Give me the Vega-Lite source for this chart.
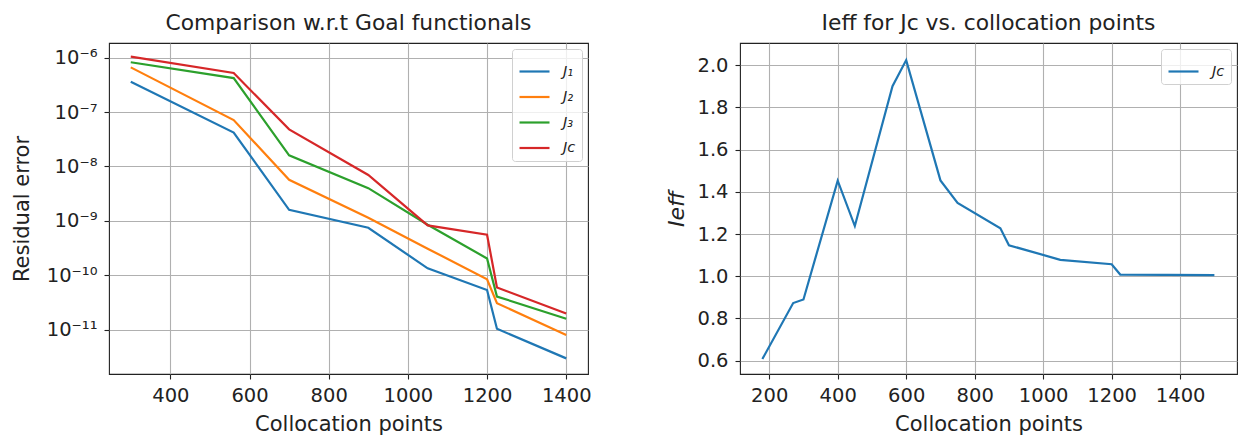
{
  "$schema": "https://vega.github.io/schema/vega-lite/v6.json",
  "padding": {"left": 10, "top": 12, "right": 0, "bottom": 0},
  "background": "white",
  "spacing": 152,
  "bounds": "flush",
  "config": {
    "font": "DejaVu Sans",
    "view": {"stroke": "#222222", "strokeWidth": 1.1},
    "axis": {
      "domain": false, "grid": true, "gridColor": "#b0b0b0", "gridWidth": 1.1, "gridOpacity": 1,
      "tickColor": "#222222", "tickSize": 5, "tickWidth": 1.1,
      "labelFontSize": 19.5, "labelColor": "#222222", "labelPadding": 7,
      "titleFontSize": 21, "titleFontWeight": "normal", "titleColor": "#222222", "titlePadding": 9
    },
    "title": {"fontSize": 21.8, "fontWeight": "normal", "color": "#222222", "offset": 8},
    "legend": {
      "orient": "top-right", "offset": 6, "padding": 6, "title": null,
      "fillColor": "rgba(255,255,255,0.8)", "strokeColor": "#d0d0d0", "cornerRadius": 3,
      "symbolType": "stroke", "symbolSize": 900, "symbolStrokeWidth": 2.2,
      "labelFontSize": 14.5, "labelFontStyle": "italic", "labelColor": "#222222", "labelOffset": 12,
      "rowPadding": 2.5
    }
  },
  "hconcat": [
    {
      "width": 479, "height": 331,
      "title": "Comparison w.r.t Goal functionals",
      "data": {"values": [
        {"x": 300, "J": "J₁", "err": 3.6e-7}, {"x": 560, "J": "J₁", "err": 4.2e-8}, {"x": 700, "J": "J₁", "err": 1.6e-9}, {"x": 900, "J": "J₁", "err": 7.5e-10}, {"x": 1050, "J": "J₁", "err": 1.35e-10}, {"x": 1200, "J": "J₁", "err": 5.4e-11}, {"x": 1225, "J": "J₁", "err": 1.05e-11}, {"x": 1400, "J": "J₁", "err": 3.0e-12},
        {"x": 300, "J": "J₂", "err": 6.6e-7}, {"x": 560, "J": "J₂", "err": 7.1e-8}, {"x": 700, "J": "J₂", "err": 5.7e-9}, {"x": 900, "J": "J₂", "err": 1.15e-9}, {"x": 1050, "J": "J₂", "err": 3.1e-10}, {"x": 1200, "J": "J₂", "err": 8.5e-11}, {"x": 1225, "J": "J₂", "err": 3.1e-11}, {"x": 1400, "J": "J₂", "err": 8.1e-12},
        {"x": 300, "J": "J₃", "err": 8.2e-7}, {"x": 560, "J": "J₃", "err": 4.2e-7}, {"x": 700, "J": "J₃", "err": 1.6e-8}, {"x": 900, "J": "J₃", "err": 4.0e-9}, {"x": 1050, "J": "J₃", "err": 8.5e-10}, {"x": 1200, "J": "J₃", "err": 2.05e-10}, {"x": 1225, "J": "J₃", "err": 4.1e-11}, {"x": 1400, "J": "J₃", "err": 1.6e-11},
        {"x": 300, "J": "Jc", "err": 1.04e-6}, {"x": 560, "J": "Jc", "err": 5.2e-7}, {"x": 700, "J": "Jc", "err": 4.8e-8}, {"x": 900, "J": "Jc", "err": 7.0e-9}, {"x": 1050, "J": "Jc", "err": 8.3e-10}, {"x": 1200, "J": "Jc", "err": 5.6e-10}, {"x": 1225, "J": "Jc", "err": 6.0e-11}, {"x": 1400, "J": "Jc", "err": 2.0e-11}
      ]},
      "mark": {"type": "line", "strokeWidth": 2.2, "clip": true},
      "encoding": {
        "x": {"field": "x", "type": "quantitative",
          "scale": {"domain": [245, 1455], "nice": false, "zero": false},
          "axis": {"values": [400, 600, 800, 1000, 1200, 1400], "format": "d", "title": "Collocation points"}},
        "y": {"field": "err", "type": "quantitative",
          "scale": {"type": "log", "domain": [1.55e-12, 1.85e-6], "nice": false},
          "axis": {"values": [1e-6, 1e-7, 1e-8, 1e-9, 1e-10, 1e-11], "title": "Residual error", "titlePadding": 14,
            "labelExpr": "'10⁻' + (round(-log(datum.value)/LN10) >= 10 ? '¹' + ['⁰','¹','²','³','⁴','⁵','⁶','⁷','⁸','⁹'][round(-log(datum.value)/LN10) - 10] : ['⁰','¹','²','³','⁴','⁵','⁶','⁷','⁸','⁹'][round(-log(datum.value)/LN10)])"}},
        "color": {"field": "J", "type": "nominal",
          "scale": {"domain": ["J₁", "J₂", "J₃", "Jc"], "range": ["#1f77b4", "#ff7f0e", "#2ca02c", "#d62728"]},
          "legend": {"title": null}}
      }
    },
    {
      "width": 497, "height": 331,
      "title": "Ieff for Jc vs. collocation points",
      "data": {"values": [
        {"x": 180, "J": "Jc", "ieff": 0.608}, {"x": 270, "J": "Jc", "ieff": 0.873}, {"x": 300, "J": "Jc", "ieff": 0.89}, {"x": 400, "J": "Jc", "ieff": 1.453}, {"x": 450, "J": "Jc", "ieff": 1.238}, {"x": 560, "J": "Jc", "ieff": 1.9}, {"x": 600, "J": "Jc", "ieff": 2.024}, {"x": 700, "J": "Jc", "ieff": 1.454}, {"x": 750, "J": "Jc", "ieff": 1.347}, {"x": 875, "J": "Jc", "ieff": 1.227}, {"x": 900, "J": "Jc", "ieff": 1.147}, {"x": 1050, "J": "Jc", "ieff": 1.078}, {"x": 1200, "J": "Jc", "ieff": 1.057}, {"x": 1225, "J": "Jc", "ieff": 1.008}, {"x": 1500, "J": "Jc", "ieff": 1.005}
      ]},
      "mark": {"type": "line", "strokeWidth": 2.2, "clip": true},
      "encoding": {
        "x": {"field": "x", "type": "quantitative",
          "scale": {"domain": [114.7, 1566], "nice": false, "zero": false},
          "axis": {"values": [200, 400, 600, 800, 1000, 1200, 1400], "format": "d", "title": "Collocation points"}},
        "y": {"field": "ieff", "type": "quantitative",
          "scale": {"domain": [0.537, 2.105], "nice": false, "zero": false},
          "axis": {"values": [0.6, 0.8, 1.0, 1.2, 1.4, 1.6, 1.8, 2.0], "format": ".1f", "title": "Ieff", "titleFontStyle": "italic", "titleFontSize": 22, "titlePadding": 8}},
        "color": {"field": "J", "type": "nominal",
          "scale": {"domain": ["Jc"], "range": ["#1f77b4"]},
          "legend": {"title": null}}
      }
    }
  ],
  "resolve": {"scale": {"color": "independent"}, "legend": {"color": "independent"}}
}
